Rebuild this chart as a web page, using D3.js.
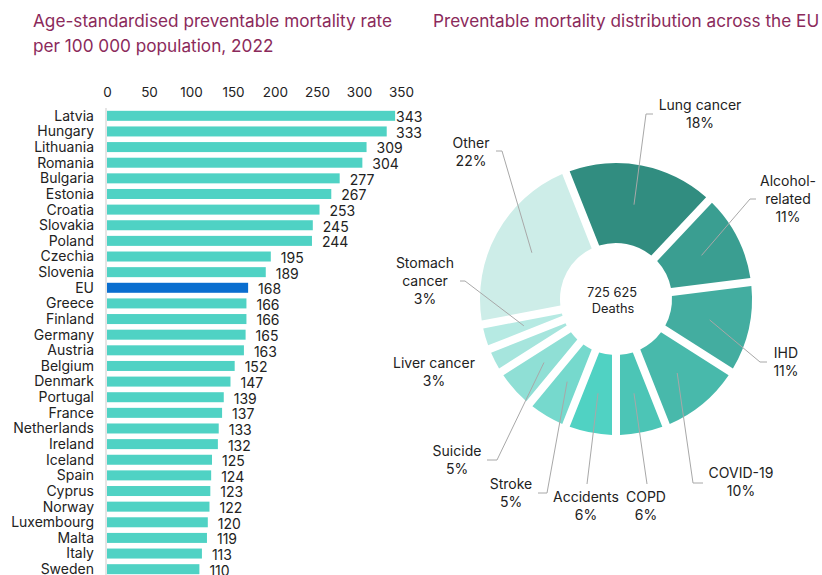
<!DOCTYPE html>
<html>
<head>
<meta charset="utf-8">
<script src="https://cdn.jsdelivr.net/npm/d3@7"></script>
<style>
  body { margin: 0; background: #fff; }
  text { font-family: Inter, "Noto Sans", sans-serif; fill: #222; }
</style>
</head>
<body>
<svg id="chart" width="822" height="575"></svg>
<script>
// bar chart data
var countries = ["Latvia", "Hungary", "Lithuania", "Romania", "Bulgaria", "Estonia", "Croatia", "Slovakia",
  "Poland", "Czechia", "Slovenia", "EU", "Greece", "Finland", "Germany", "Austria", "Belgium", "Denmark",
  "Portugal", "France", "Netherlands", "Ireland", "Iceland", "Spain", "Cyprus", "Norway", "Luxembourg",
  "Malta", "Italy", "Sweden"];
var rates = [343, 333, 309, 304, 277, 267, 253, 245, 244, 195, 189, 168, 166, 166, 165, 163, 152, 147,
  139, 137, 133, 132, 125, 124, 123, 122, 120, 119, 113, 110];
var xTicks = [0, 50, 100, 150, 200, 250, 300, 350];

// donut data (clockwise from lung cancer)
var causes = ["Lung cancer", "Alcohol-related", "IHD", "COVID-19", "COPD", "Accidents", "Stroke",
  "Suicide", "Liver cancer", "Stomach cancer", "Other"];
var shares = [18, 11, 11, 10, 6, 6, 5, 5, 3, 3, 22];
var totalDeaths = "725 625";

var causeColors = ["#318d80", "#3a9e91", "#43ada0", "#48b9ab", "#4cc5b6", "#50d2c3", "#76d9cd",
  "#8fdfd5", "#a6e5dd", "#b6eae3", "#cdede8"];

var svg = d3.select("svg#chart");

// titles
var titleColor = "#8b2a5b";
var titleSize = "17.2px";
svg.append("text").attr("x", 33).attr("y", 27).style("font-size", titleSize).style("fill", titleColor)
  .text("Age-standardised preventable mortality rate");
svg.append("text").attr("x", 33).attr("y", 52).style("font-size", titleSize).style("fill", titleColor)
  .text("per 100 000 population, 2022");
svg.append("text").attr("x", 433).attr("y", 27).style("font-size", titleSize).style("fill", titleColor)
  .text("Preventable mortality distribution across the EU");

//---- bar chart
var x = d3.scaleLinear().domain([0, 350]).range([107, 401]);
var y = d3.scaleBand().domain(countries).range([108, 577]).paddingInner(0.36).paddingOuter(0.18);

svg.append("g")
  .attr("transform", "translate(0,92)")
  .call(d3.axisTop(x).tickValues(xTicks).tickSize(0).tickPadding(0))
  .call(function(g) { g.select(".domain").remove(); })
  .selectAll("text")
  .attr("dy", "0.35em")
  .style("font-size", "13.5px")
  .style("fill", "#222");

svg.append("line")
  .attr("x1", 106).attr("x2", 106)
  .attr("y1", 108).attr("y2", 575)
  .style("stroke", "#dcdcdc")
  .style("stroke-width", 1.5);

var rows = countries.map(function(c, i) { return { name: c, value: rates[i] }; });

svg.append("g").selectAll("rect")
  .data(rows)
  .enter().append("rect")
  .attr("x", x(0))
  .attr("y", function(d) { return y(d.name); })
  .attr("width", function(d) { return x(d.value) - x(0); })
  .attr("height", y.bandwidth())
  .attr("fill", function(d) { return d.name == "EU" ? "#0a6ecf" : "#4fd2c4"; });

svg.append("g").selectAll("text")
  .data(rows)
  .enter().append("text")
  .attr("x", 94)
  .attr("y", function(d) { return y(d.name) + y.bandwidth() / 2; })
  .attr("dy", "0.35em")
  .attr("text-anchor", "end")
  .style("font-size", "14px")
  .text(function(d) { return d.name; });

svg.append("g").selectAll("text")
  .data(rows)
  .enter().append("text")
  .attr("x", function(d) { return Math.min(x(d.value) + 10, 396); })
  .attr("y", function(d) { return y(d.name) + y.bandwidth() / 2 + 1.5; })
  .attr("dy", "0.35em")
  .style("font-size", "14px")
  .text(function(d) { return d.value; });

//---- donut
var cx = 616, cy = 299;
var outerR = 136, innerR = 56;
var color = d3.scaleOrdinal().domain(causes).range(causeColors);

var slices = causes.map(function(c, i) { return { name: c, share: shares[i] }; });

var pie = d3.pie()
  .value(function(d) { return d.share; })
  .sort(null)
  .startAngle(-0.06 * 2 * Math.PI)
  .endAngle(0.94 * 2 * Math.PI);

var arc = d3.arc()
  .innerRadius(innerR)
  .outerRadius(outerR)
  .padRadius(outerR)
  .padAngle(8 / outerR);

var arcs = pie(slices);

var donut = svg.append("g").attr("transform", "translate(" + cx + "," + cy + ")");

donut.selectAll("path")
  .data(arcs)
  .enter().append("path")
  .attr("d", arc)
  .attr("fill", function(d) { return color(d.data.name); });

// label placement relative to the donut centre: text, elbow, end of leader
var labelLayout = {
  "Lung cancer":     { lines: ["Lung cancer"], tx: 84, ty: -194, ex: 30, ey: -185, end: 37 },
  "Alcohol-related": { lines: ["Alcohol-", "related"], tx: 172, ty: -118, ex: 134, ey: -100, end: 140 },
  "IHD":             { lines: ["IHD"], tx: 170, ty: 54, ex: 144, ey: 63, end: 151 },
  "COVID-19":        { lines: ["COVID-19"], tx: 125, ty: 174, ex: 77, ey: 184, end: 87 },
  "COPD":            { lines: ["COPD"], tx: 30, ty: 198, ex: 31, ey: 185, end: null },
  "Accidents":       { lines: ["Accidents"], tx: -30, ty: 198, ex: -29, ey: 185, end: null },
  "Stroke":          { lines: ["Stroke"], tx: -105, ty: 185, ex: -69, ey: 194, end: -78 },
  "Suicide":         { lines: ["Suicide"], tx: -159, ty: 152, ex: -119, ey: 161, end: -129 },
  "Liver cancer":    { lines: ["Liver cancer"], tx: -182, ty: 64, ex: null },
  "Stomach cancer":  { lines: ["Stomach", "cancer"], tx: -191, ty: -36, ex: -151, ey: -18, end: -156 },
  "Other":           { lines: ["Other"], tx: -145, ty: -156, ex: -114, ey: -148, end: -120 }
};

var leaderR = 96;
arcs.forEach(function(d) {
  var L = labelLayout[d.data.name];
  if (L.ex !== null) {
    var mid = (d.startAngle + d.endAngle) / 2;
    var px = leaderR * Math.sin(mid), py = -leaderR * Math.cos(mid);
    var pts = [[px, py], [L.ex, L.ey]];
    if (L.end !== null) pts.push([L.end, L.ey]);
    donut.append("path")
      .attr("d", d3.line()(pts))
      .attr("fill", "none")
      .style("stroke", "#a8a8a8")
      .style("stroke-width", 1);
  }
  var t = donut.append("text")
    .attr("text-anchor", "middle")
    .style("font-size", "14px");
  var lines = L.lines.concat([d.data.share + "%"]);
  lines.forEach(function(s, i) {
    t.append("tspan")
      .attr("x", L.tx)
      .attr("y", L.ty + i * 18)
      .attr("dy", "0.35em")
      .text(s);
  });
});

donut.append("text").attr("x", -4).attr("y", -6).attr("dy", "0.35em")
  .attr("text-anchor", "middle").style("font-size", "12.8px").text(totalDeaths);
donut.append("text").attr("x", -3).attr("y", 10).attr("dy", "0.35em")
  .attr("text-anchor", "middle").style("font-size", "12.8px").text("Deaths");
</script>
</body>
</html>
